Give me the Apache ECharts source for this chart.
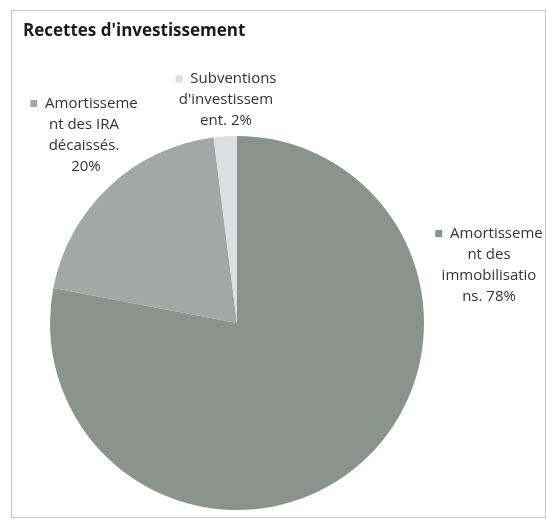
<!DOCTYPE html>
<html>
<head>
<meta charset="utf-8">
<script src="https://cdn.jsdelivr.net/npm/echarts@6/dist/echarts.min.js"></script>
<style>
  html, body { margin: 0; padding: 0; background: #fff; }
  #container { width: 546px; height: 522px; }
</style>
</head>
<body>
<div id="container"></div>
<script>
// données
var categories = [
  "Amortisseme\nnt des\nimmobilisatio\nns.",
  "Amortisseme\nnt des IRA\ndécaissés.\n",
  "Subventions\nd'investissem\nent."
];
var values = [78, 20, 2];
var colors = ["#8b938f", "#a2a8a5", "#dcdfdf"];
// position des étiquettes (centre du texte)
var labelPos = [
  [489, 265],
  [84, 135],
  [226, 100]
];

var dom = document.getElementById("container");
var myChart = echarts.init(dom, null, { renderer: "canvas" });

var option = {
  backgroundColor: "#fff",
  animation: false,
  title: {
    text: "Recettes d'investissement",
    left: 18,
    top: 18,
    textStyle: {
      fontFamily: "Open Sans",
      fontWeight: "bold",
      fontSize: 17,
      color: "#1a1a1a"
    }
  },
  graphic: [
    {
      type: "rect",
      shape: { x: 11.5, y: 10.5, width: 534, height: 507 },
      style: { fill: null, stroke: "#888", lineWidth: 1, lineDash: [1, 1] },
      silent: true
    }
  ],
  series: [
    {
      type: "pie",
      center: [237, 323],
      radius: 187,
      startAngle: 90,
      clockwise: true,
      data: values.map(function (v, i) {
        return {
          value: v,
          name: categories[i],
          itemStyle: { color: colors[i] }
        };
      }),
      label: {
        show: true,
        position: "outside",
        alignTo: "none",
        overflow: "none",
        width: 200,
        fontFamily: "Open Sans",
        fontSize: 15,
        lineHeight: 21,
        color: "#333",
        align: "center",
        formatter: function (p) {
          var lines = (p.name + " " + p.value + "%").split("\n");
          // petite case de légende avant la première ligne
          lines[0] = "{m" + p.dataIndex + "|}  " + lines[0];
          return lines.join("\n");
        },
        rich: {
          m0: { width: 7, height: 7, backgroundColor: colors[0] },
          m1: { width: 7, height: 7, backgroundColor: colors[1] },
          m2: { width: 7, height: 7, backgroundColor: colors[2] }
        }
      },
      labelLine: { show: false },
      labelLayout: function (params) {
        var p = labelPos[params.dataIndex];
        return {
          x: p[0],
          y: p[1],
          align: "center",
          verticalAlign: "middle"
        };
      },
      emphasis: { disabled: true }
    }
  ]
};

myChart.setOption(option);
window.addEventListener("resize", myChart.resize);
</script>
</body>
</html>
